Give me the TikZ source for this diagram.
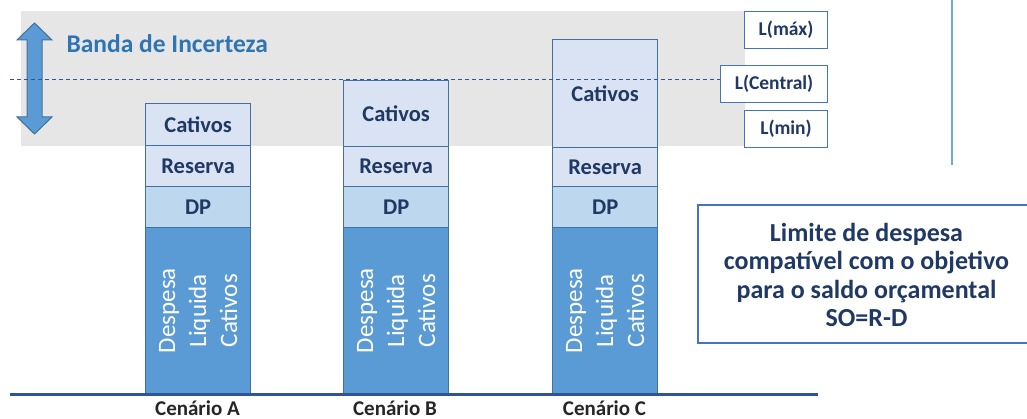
\documentclass[tikz,border=0pt]{standalone}
\usepackage{fontspec}
\setmainfont{Carlito}
\definecolor{bandgray}{HTML}{E7E6E6}
\definecolor{lightblue}{HTML}{DAE3F3}
\definecolor{midblue}{HTML}{BDD7EE}
\definecolor{barblue}{HTML}{5B9BD5}
\definecolor{edgeblue}{HTML}{41719C}
\definecolor{darkblue}{HTML}{1F3864}
\definecolor{titleblue}{HTML}{2E75B6}
\definecolor{lineblue}{HTML}{2F5597}
\definecolor{boxblue}{HTML}{4472C4}
\definecolor{vlineblue}{HTML}{6FA8DC}
\definecolor{labelblack}{HTML}{262626}
\tikzset{
  cell/.style={draw=edgeblue, line width=1.3pt, rectangle, inner sep=0pt, anchor=north west,
    minimum width=105pt, text=darkblue, font=\fontsize{22.5}{26}\selectfont\bfseries},
  lightcell/.style={cell, fill=lightblue},
  dpcell/.style={cell, fill=midblue},
  basecell/.style={cell, fill=barblue},
  vtext/.style={rotate=90, align=center, text=white, font=\fontsize{25}{31}\selectfont},
  lbox/.style={draw=boxblue, line width=1pt, fill=white, rectangle, inner sep=0pt, anchor=north west,
    text=darkblue, font=\fontsize{19.5}{23}\selectfont\bfseries},
  scen/.style={text=labelblack, anchor=base, inner sep=0pt, font=\fontsize{21}{24}\selectfont\bfseries},
}
\begin{document}
\begin{tikzpicture}[x=1pt,y=-1pt]
\useasboundingbox (0,0) rectangle (1027,419);
% uncertainty band
\fill[bandgray] (21,11) rectangle (745,146);
% double arrow
\draw[fill=barblue, draw=edgeblue, line width=1pt, line join=miter]
  (34.5,23) -- (52,40) -- (42,40) -- (42,117) -- (52,117) -- (34.5,134)
  -- (17,117) -- (27,117) -- (27,40) -- (17,40) -- cycle;
\node[anchor=west, text=titleblue, font=\fontsize{25.5}{30}\selectfont\bfseries] (banda) at (63,44) {Banda de Incerteza};

% Bar A
\node[basecell, minimum height=166pt] (aD) at (145,227) {};
\node[dpcell, minimum height=41pt] (aP) at (145,186) {DP};
\node[lightcell, minimum height=41pt] (aR) at (145,145) {Reserva};
\node[lightcell, minimum height=42pt] (aC) at (145,103) {Cativos};
\node[vtext] (aT) at (aD.center) {Despesa\\Liquida\\Cativos};
% Bar B
\node[basecell, minimum height=166pt] (bD) at (343,227) {};
\node[dpcell, minimum height=41pt] (bP) at (343,186) {DP};
\node[lightcell, minimum height=40pt] (bR) at (343,146) {Reserva};
\node[lightcell, minimum height=66pt] (bC) at (343,80) {Cativos};
\node[vtext] (bT) at (bD.center) {Despesa\\Liquida\\Cativos};
% Bar C
\node[basecell, minimum height=166pt] (cD) at (552,227) {};
\node[dpcell, minimum height=41pt] (cP) at (552,186) {DP};
\node[lightcell, minimum height=39pt] (cR) at (552,147) {Reserva};
\node[lightcell, minimum height=108pt] (cC) at (552,39) {Cativos};
\node[vtext] (cT) at (cD.center) {Despesa\\Liquida\\Cativos};

% L boxes
\node[lbox, minimum width=83pt, minimum height=37pt] (lmax) at (744,11) {L(máx)};
\node[lbox, minimum width=107pt, minimum height=37pt] (lcen) at (720,65) {L(Central)};
\node[lbox, minimum width=83pt, minimum height=37pt] (lmin) at (744,110) {L(min)};

% dashed central line
\coordinate (dstart) at (10,79.5);
\draw[lineblue, line width=0.8pt, dash pattern=on 4pt off 3pt] (dstart) -- (dstart -| lcen.west);

% vertical line
\coordinate (vtop) at (952,0);
\coordinate (vbot) at (952,165);
\draw[vlineblue, line width=1.2pt] (vtop) -- (vbot);

% baseline
\coordinate (b0) at (10,394.5);
\coordinate (b1) at (818,394.5);
\draw[lineblue, line width=3pt] (b0) -- (b1);

% scenario labels
\node[scen] (sA) at (197.5,415.5) {Cenário A};
\node[scen] (sB) at (395,415.5) {Cenário B};
\node[scen] (sC) at (604.5,415.5) {Cenário C};

% limit box
\node[align=center, text=darkblue, font=\fontsize{26}{28.5}\selectfont\bfseries] (lim) at (866.5,275) {Limite de despesa\\compatível com o objetivo\\para o saldo orçamental\\SO=R-D};
\coordinate (lim1) at (1027,205);
\coordinate (lim2) at (698,205);
\coordinate (lim3) at (698,343);
\coordinate (lim4) at (1027,343);
\draw[boxblue, line width=1.3pt] (lim1) -- (lim2) -- (lim3) -- (lim4);
\end{tikzpicture}
\end{document}
